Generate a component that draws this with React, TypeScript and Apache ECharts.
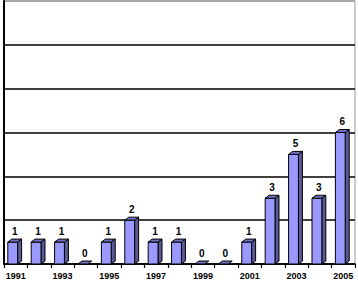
import React, { useEffect, useRef } from "react";
import * as echarts from "echarts";

const years = ["1991","1992","1993","1994","1995","1996","1997","1998","1999","2000","2001","2002","2003","2004","2005"];
const counts = [1, 1, 1, 0, 1, 2, 1, 1, 0, 0, 1, 3, 5, 3, 6];
const yMin = 0;
const yMax = 12;
const yInterval = 2;

export default function App() {
  const ref = useRef<HTMLDivElement>(null);
  useEffect(() => {
    if (!ref.current) return;
    document.body.style.margin = "0";
    const chart = echarts.init(ref.current, null, { renderer: "svg" });
    const font = "'Liberation Sans', Arial, sans-serif";
    chart.setOption({
      animation: false,
      backgroundColor: "#fff",
      grid: { left: 4, right: 3, top: 1, bottom: 19, show: true, borderColor: "#9a9a9a", borderWidth: 1, backgroundColor: "transparent" },
      xAxis: {
        type: "category",
        data: years,
        boundaryGap: true,
        axisLine: { show: true, lineStyle: { color: "#000", width: 1.5 } },
        axisTick: { show: true, interval: 0, length: 4, lineStyle: { color: "#000", width: 1.2 } },
        axisLabel: { interval: 1, margin: 7, fontFamily: font, fontSize: 9, fontWeight: "bold", color: "#000" },
        splitLine: { show: false },
      },
      yAxis: {
        type: "value",
        min: yMin,
        max: yMax,
        interval: yInterval,
        axisLine: { show: true, lineStyle: { color: "#000", width: 2 } },
        axisTick: { show: false },
        axisLabel: { show: false },
        splitLine: { show: true, lineStyle: { color: ["#000", "#000", "#000", "#000", "#000", "#000", "#9a9a9a"], width: 1.5 } },
      },
      series: [
        {
          type: "custom",
          data: counts.map((v, i) => [i, v]),
          encode: { x: 0, y: 1 },
          renderItem: (params: any, api: any) => {
            const idx = api.value(0);
            const val = api.value(1);
            const top = api.coord([idx, val]);
            const base = api.coord([idx, 0]);
            const band = api.size([1, 0])[0];
            const w = band * 0.42;
            const dx = 4;
            const dy = 3;
            const left = top[0] - (w + dx) / 2 - 1;
            const right = left + w;
            const y = top[1];
            const y0 = base[1];
            const children: any[] = [];
            if (y0 - y > 0.5) {
              children.push({
                type: "polygon",
                shape: { points: [[right, y], [right + dx, y - dy], [right + dx, y0 - dy], [right, y0]] },
                style: { fill: "#5a5a96", stroke: "#000", lineWidth: 1 },
              });
              children.push({
                type: "rect",
                shape: { x: left, y: y, width: w, height: y0 - y },
                style: { fill: "#9999ff", stroke: "#000", lineWidth: 1 },
              });
            }
            children.push({
              type: "polygon",
              shape: { points: [[left, y], [left + dx, y - dy], [right + dx, y - dy], [right, y]] },
              style: { fill: "#6f6fc0", stroke: "#000", lineWidth: 1 },
            });
            children.push({
              type: "text",
              style: {
                x: left + (w + dx) / 2,
                y: y - dy - 3,
                text: String(val),
                align: "center",
                verticalAlign: "bottom",
                fontFamily: font,
                fontSize: 10,
                fontWeight: "bold",
                fill: "#000",
              },
            });
            return { type: "group", children };
          },
        },
      ],
    });
    return () => chart.dispose();
  }, []);
  return <div ref={ref} style={{ width: 358, height: 283 }} />;
}
